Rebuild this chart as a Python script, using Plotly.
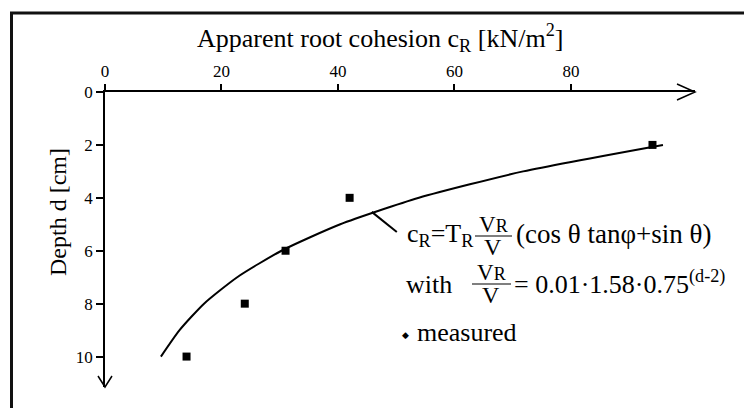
import plotly.graph_objects as go

# Measured apparent root cohesion at each sampled depth
depth_measured = [10, 8, 6, 4, 2]
cohesion_measured = [14, 24, 31, 42, 94]

# Model curve c_R(d)
depth_model = [2, 3, 4, 5, 6, 7, 8, 9, 10]
cohesion_model = [95.8, 71.8, 53.9, 40.4, 30.3, 22.7, 17.0, 12.8, 9.6]

x_ticks = [0, 20, 40, 60, 80]
y_ticks = [0, 2, 4, 6, 8, 10]

X_MAX = 101.3
D_MAX = 11.15

# page and plot-area geometry in pixels
W, H = 744, 408
L, R, T, B = 105, 695, 92, 387

SERIF = "Liberation Serif"


def px(x):
    return (x - L) / (R - L)


def py(y):
    return (B - y) / (B - T)


fig = go.Figure()

fig.add_trace(go.Scatter(
    x=cohesion_model, y=depth_model, mode="lines",
    line=dict(color="black", width=2, shape="spline", smoothing=0.6),
    showlegend=False, hoverinfo="skip",
))
fig.add_trace(go.Scatter(
    x=cohesion_measured, y=depth_measured, mode="markers", name="measured",
    marker=dict(symbol="square", size=8, color="black"),
    showlegend=False, cliponaxis=False,
))

annotations = []


def label(text, x, y, size, xanchor="left", yanchor="middle", angle=0):
    annotations.append(dict(
        text=text, x=px(x), y=py(y), xref="paper", yref="paper",
        xanchor=xanchor, yanchor=yanchor, showarrow=False, textangle=angle,
        font=dict(family=SERIF, size=size, color="black"),
    ))


shapes = []


def hline(x0, x1, y, width=1.2):
    shapes.append(dict(type="line", xref="paper", yref="paper",
                       x0=px(x0), x1=px(x1), y0=py(y), y1=py(y),
                       line=dict(color="black", width=width)))


VR = "V<span style='font-size:18px'>R</span>"

# axis titles
label("Apparent root cohesion c<sub>R</sub> [kN/m<sup>2</sup>]", 380, 38, 26,
      xanchor="center")
label("Depth d [cm]", 58, 212, 24, xanchor="center", angle=-90)

# formula, first line
label("c<sub>R</sub>=T<sub>R</sub>", 405, 235, 26)
label(VR, 493, 224, 23, xanchor="center")
hline(475, 512, 236)
label("V", 493, 247, 24, xanchor="center")
label("(cos θ tanφ+sin θ)", 514, 234, 27)

# formula, second line
label("with", 404, 284, 26)
label(VR, 491, 272, 23, xanchor="center")
hline(472, 511, 284)
label("V", 491, 295, 24, xanchor="center")
label("= 0.01·1.58·0.75<sup>(d-2)</sup>", 512, 282, 26)

# key for the measured points
label("◆", 406, 335, 9, xanchor="center")
label("measured", 415, 332, 26)

# leader from the curve to the formula
shapes.append(dict(type="line", xref="x", yref="y",
                   x0=45.8, y0=4.53, x1=50.1, y1=5.29,
                   line=dict(color="black", width=2)))

# outer frame
shapes.append(dict(type="path", xref="paper", yref="paper",
                   path=f"M {px(760)},{py(13)} L {px(11.5)},{py(13)} "
                        f"L {px(11.5)},{py(420)}",
                   line=dict(color="#111", width=3)))

# arrowheads on the axes
shapes.append(dict(type="path", xref="paper", yref="paper",
                   xsizemode="pixel", ysizemode="pixel", xanchor=1, yanchor=1,
                   path="M -18,8 L 0,0 L -18,-8",
                   line=dict(color="black", width=1.5)))
shapes.append(dict(type="path", xref="paper", yref="paper",
                   xsizemode="pixel", ysizemode="pixel", xanchor=0, yanchor=0,
                   path="M -7,11 L 0,0 L 7,11",
                   line=dict(color="black", width=1.5)))

fig.update_layout(
    width=W, height=H,
    margin=dict(l=L, r=W - R, t=T, b=H - B, pad=0),
    paper_bgcolor="white", plot_bgcolor="white",
    showlegend=False,
    annotations=annotations, shapes=shapes,
    font=dict(family=SERIF, color="black"),
    xaxis=dict(
        side="top", range=[0, X_MAX], tickvals=x_ticks,
        ticktext=[str(v) for v in x_ticks],
        showgrid=False, zeroline=False, showline=True,
        linecolor="black", linewidth=1.5,
        ticks="outside", ticklen=6, tickwidth=1.5, tickcolor="black",
        tickfont=dict(family=SERIF, size=17, color="black"),
    ),
    yaxis=dict(
        range=[D_MAX, 0], tickvals=y_ticks,
        ticktext=[str(v) for v in y_ticks],
        showgrid=False, zeroline=False, showline=True,
        linecolor="black", linewidth=1.5,
        ticks="outside", ticklen=7, tickwidth=1.5, tickcolor="black",
        tickfont=dict(family=SERIF, size=17, color="black"),
    ),
)

fig.write_html("out.html")
